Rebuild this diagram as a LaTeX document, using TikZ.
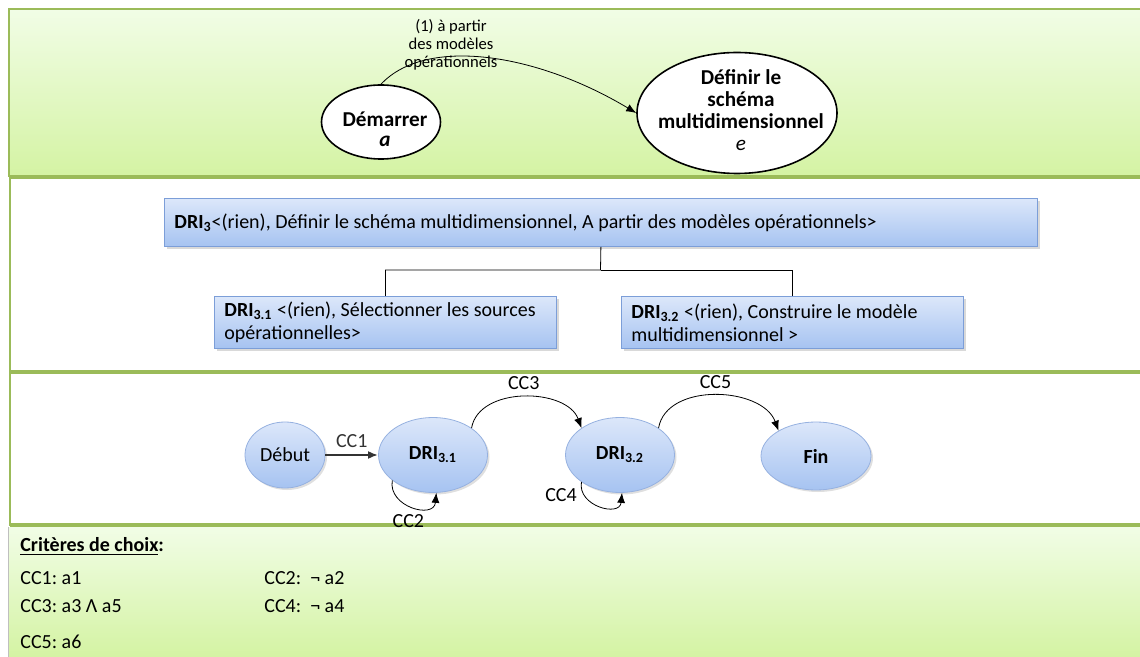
\documentclass[tikz,border=0pt]{standalone}
\usepackage{fontspec}
\setmainfont{Carlito}
\frenchspacing
\usetikzlibrary{shapes.geometric,arrows.meta,shadows,positioning}

\definecolor{bandline}{HTML}{9BBB59}
\definecolor{greentop}{HTML}{F1FDE6}
\definecolor{greenbot}{HTML}{D4F3A3}
\definecolor{bluetop}{HTML}{DCE7FA}
\definecolor{bluebot}{HTML}{A6C3F1}
\definecolor{blueline}{HTML}{7C9ED8}

\tikzset{
  sep/.style={bandline, line width=2pt},
  rim/.style={bandline, line width=1pt},
  goal/.style={ellipse, draw, thick, fill=white, inner sep=0pt},
  goaltext/.style={align=center, inner sep=0pt, font=\fontsize{10.6}{11}\selectfont},
  dribox/.style={rectangle, draw=blueline, top color=bluetop, bottom color=bluebot,
    drop shadow={shadow xshift=1.5pt, shadow yshift=-1.5pt, opacity=0.3},
    anchor=north west, align=flush left, inner xsep=5pt, inner ysep=0pt, minimum height=24pt,
    execute at begin node={\spaceskip=0pt\xspaceskip=0pt\relax}},
  state/.style={ellipse, draw=blueline!80, top color=bluetop, bottom color=bluebot,
    drop shadow={shadow xshift=1pt, shadow yshift=-1pt, opacity=0.25}, inner sep=0pt},
  trans/.style={-{Latex[length=5pt,width=4pt]}},
  crit/.style={anchor=west, inner sep=0pt},
}

\begin{document}
\begin{tikzpicture}[x=0.5pt, y=-0.5pt, font=\fontsize{10}{11.5}\selectfont]
\useasboundingbox (0,0) rectangle (1140,657);
% bandes
\shade[top color=greentop, bottom color=greenbot] (9,9) rectangle (1140,177);
\draw[rim] (1140,9) -- (9,9) -- (9,177);
\draw[sep] (9,177) -- (1140,177);
\draw[rim] (10,178) -- (10,526);
\draw[sep] (10,372) -- (1140,372);
\draw[sep] (10,525) -- (1140,525);
\shade[top color=greentop, bottom color=greenbot] (8,527) rectangle (1140,657);
\draw[black!25] (8,527) -- (8,657);

% carte
\node[goal, minimum width=59.5pt, minimum height=37pt] (dem) at (381,122) {};
\node[goaltext] (demtxt) at (385,129) {\textbf{Démarrer}\\[-1pt]\textbf{\textit{a}}};
\node[goal, minimum width=100pt, minimum height=60.5pt] (def) at (737,113) {};
\node[goaltext] (deftxt) at (741,110) {\textbf{Définir le}\\\textbf{schéma}\\\textbf{multidimensionnel}\\\textit{e}};
\draw[trans] (dem.north) .. controls +(45,-48) and +(-100,-60) .. (def.west);
\node[align=center, font=\fontsize{8.3}{9}\selectfont] (strat) at (451,45) {(1) à partir\\des modèles\\opérationnels};

% arbre DRI
\node[dribox, minimum width=436.5pt, text width=426.5pt] (dri3) at (164,198)
  {\textbf{DRI\textsubscript{3}}<(rien), Définir le schéma multidimensionnel, A partir des modèles opérationnels>};
\node[dribox, minimum width=171pt, text width=161pt, minimum height=26pt] (dri31) at (214,296)
  {\textbf{DRI\textsubscript{3.1}} <(rien), Sélectionner les sources\\opérationnelles>};
\node[dribox, minimum width=171pt, text width=161pt, minimum height=26pt] (dri32) at (621,296)
  {\textbf{DRI\textsubscript{3.2}} <(rien), Construire le modèle\\multidimensionnel >};
\coordinate (fork) at (600.5,270);
\draw (dri3.south) -- (fork) -| (dri31.north);
\draw (fork) -| (dri32.north);

% graphe
\node[state, minimum width=40pt, minimum height=33pt] (debut) at (285,455) {Début};
\node[state, minimum width=54.5pt, minimum height=37.5pt] (s31) at (433,455) {\textbf{DRI\textsubscript{3.1}}};
\node[state, minimum width=54.5pt, minimum height=37.5pt] (s32) at (620,455) {\textbf{DRI\textsubscript{3.2}}};
\node[state, minimum width=55pt, minimum height=34pt] (fin) at (816,456) {\textbf{Fin}};
\draw[trans, line width=1.1pt, black!80] (debut) -- node[above] (cc1) {CC1} (s31);
\draw[trans] (s31.35) to[out=80, in=110] node[above] (cc3) {CC3} (s32.145);
\draw[trans] (s32.35) to[out=80, in=110] node[above] (cc5) {CC5} (fin.146);
\draw[trans] (s31.212) to[out=260, in=265, looseness=1.5] node[pos=0.45, below=1pt] (cc2) {CC2} (s31.275);
\draw[trans] (s32.215) to[out=260, in=265, looseness=1.5] node[pos=0.2, left] (cc4) {CC4} (s32.273);

% criteres
\node[crit, font=\fontsize{10}{11}\selectfont\bfseries] (crit) at (20,547) {\underline{Critères de choix}:};
\node[crit] (c1) at (20,578) {CC1: a1};
\node[crit] (c2) at (264,578) {CC2: \ ¬ a2};
\node[crit] (c3) at (20,606) {CC3: a3 Λ a5};
\node[crit] (c4) at (264,606) {CC4: \ ¬ a4};
\node[crit] (c5) at (20,642) {CC5: a6};
\end{tikzpicture}
\end{document}
